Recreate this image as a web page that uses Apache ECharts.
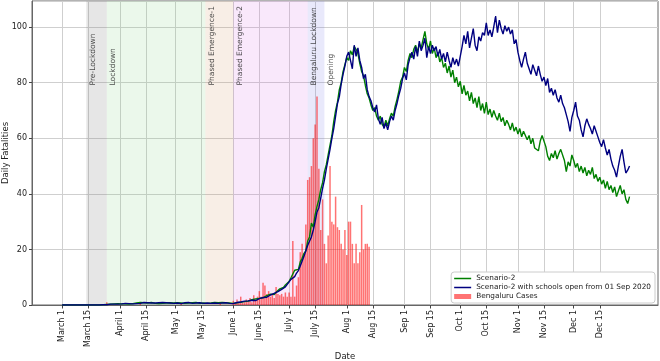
<!DOCTYPE html>
<html>
<head>
<meta charset="utf-8">
<script src="https://cdn.jsdelivr.net/npm/echarts@6/dist/echarts.min.js"></script>
<style>
  html, body { margin: 0; padding: 0; background: #fff; }
  #chart { width: 660px; height: 361px; }
</style>
</head>
<body>
<div id="chart"></div>
<script>
// x positions are days counted from 1 March 2020
const START = Date.UTC(2020, 2, 1);
const dayOf = (s) => Math.round((Date.parse(s + "T00:00:00Z") - START) / 86400000);

const tickDates = [
  "2020-03-01", "2020-03-15", "2020-04-01", "2020-04-15", "2020-05-01",
  "2020-05-15", "2020-06-01", "2020-06-15", "2020-07-01", "2020-07-15",
  "2020-08-01", "2020-08-15", "2020-09-01", "2020-09-15", "2020-10-01",
  "2020-10-15", "2020-11-01", "2020-11-15", "2020-12-01", "2020-12-15",
];
const tickLabels = [
  "March 1", "March 15", "April 1", "April 15", "May 1",
  "May 15", "June 1", "June 15", "July 1", "July 15",
  "Aug 1", "Aug 15", "Sep 1", "Sep 15", "Oct 1",
  "Oct 15", "Nov 1", "Nov 15", "Dec 1", "Dec 15",
];

// phases of the lockdown
const phaseNames = ["Pre-Lockdown", "Lockdown", "Phased Emergence-1", "Phased Emergence-2", "Bengaluru Lockdown", "Opening"];
const phaseStart = ["2020-03-14", "2020-03-25", "2020-05-17", "2020-06-01", "2020-07-11", "2020-07-20"];
const phaseEnd   = ["2020-03-25", "2020-05-17", "2020-06-01", "2020-07-11", "2020-07-20", null];
const phaseColors = [
  "rgba(128,128,128,0.2)", "rgba(120,210,120,0.15)", "rgba(210,140,90,0.15)",
  "rgba(220,110,230,0.16)", "rgba(110,110,230,0.15)", null,
];

// daily fatalities, one value per day from 1 March to 31 Dec 2020
const scenario2 = [
  0, 0, 0, 0, 0, 0, 0, 0, 0, 0,
  0, 0, 0, 0, 0, 0, 0, 0, 0, 0,
  0, 0, 0.1, 0.1, 0.2, 0.1, 0.3, 0.2, 0.4, 0.3,
  0.5, 0.3, 0.4, 0.6, 0.4, 0.5, 0.3, 0.6, 0.5, 0.4,
  0.7, 0.5, 0.9, 0.6, 0.8, 0.5, 0.7, 0.6, 0.9, 0.7,
  0.6, 0.8, 0.5, 0.7, 0.6, 0.9, 0.7, 0.6, 0.8, 0.5,
  0.7, 1.0, 0.8, 0.6, 0.7, 0.9, 0.6, 0.8, 0.7, 0.5,
  0.8, 0.6, 0.9, 0.7, 0.6, 0.8, 0.7, 0.9, 0.6, 0.8,
  0.7, 1.2, 0.9, 0.7, 0.8, 0.6, 0.9, 0.7, 0.8, 0.6,
  0.7, 0.8, 0.6, 0.9, 0.8, 1.1, 1.0, 1.3, 1.2, 1.6,
  1.4, 1.5, 1.9, 1.7, 2.2, 2.0, 2.4, 2.9, 2.6, 3.1,
  3.4, 3.2, 3.9, 4.1, 3.8, 4.6, 5.0, 5.8, 5.4, 6.3,
  7.2, 6.8, 8.5, 9.8, 9.2, 12.5, 13.2, 12.8, 15.5, 16.8,
  18.6, 19.5, 23, 24.5, 29.5, 28, 32.5, 35.5, 38, 41.5,
  44, 48, 50.5, 54, 57.5, 61, 66, 70, 73, 77.5,
  80, 84, 86.5, 89, 88, 91.5, 90, 93, 92, 90.5,
  87, 84, 82.5, 79, 76, 74.5, 72, 70, 71, 68,
  66.5, 68, 65, 64, 66.5, 64.5, 67, 69, 68, 71.5,
  74, 77, 80.5, 82, 85.5, 84, 88, 90.5, 89, 92,
  93.5, 91, 94, 92.5, 95.5, 98.5, 94, 92, 95, 90.5,
  92.5, 89, 91, 87.5, 89, 85.5, 87, 83.5, 86, 82,
  84.5, 80, 82, 78.5, 80.5, 76, 79, 75.5, 77, 73.5,
  76.5, 72.5, 74.5, 71, 75, 70, 72.5, 69, 73, 68.5,
  70.5, 67.5, 70, 68, 66.5, 69, 66, 67.5, 64.5, 66.5,
  65, 63, 65.5, 62.5, 64, 61.5, 63.5, 60.5, 62.5, 63,
  59.5, 61, 58, 60, 56.5, 57, 55.5, 59, 61, 60.5,
  57, 53.5, 52, 54.5, 53, 55.5, 52.5, 54.5, 56, 55.5,
  52, 48, 51.5, 50, 54, 52, 49.5, 51, 48, 50,
  47.5, 49.5, 46.5, 48.5, 47, 49.5, 45.5, 47, 44.5, 46,
  43.5, 45, 42, 44.5, 41.5, 43, 40.5, 42.5, 39, 41,
  43, 40, 41.5, 38, 36.5, 39,
];

const schoolsOpen = [
  0, 0, 0, 0, 0, 0, 0, 0, 0, 0,
  0, 0, 0, 0, 0, 0, 0, 0, 0, 0,
  0, 0.1, 0.1, 0.2, 0.1, 0.2, 0.3, 0.2, 0.3, 0.4,
  0.3, 0.5, 0.4, 0.3, 0.6, 0.4, 0.5, 0.7, 0.4, 0.6,
  0.5, 0.8, 0.6, 0.7, 0.9, 0.6, 0.8, 0.5, 0.7, 0.8,
  0.7, 0.6, 0.8, 0.5, 0.9, 0.7, 0.8, 0.6, 0.7, 0.9,
  0.6, 0.8, 0.7, 0.9, 0.5, 0.7, 0.8, 0.6, 0.9, 0.7,
  0.6, 0.8, 0.7, 0.5, 0.8, 0.7, 0.6, 0.8, 0.7, 0.9,
  0.6, 0.8, 0.7, 0.9, 0.6, 0.8, 0.7, 0.6, 0.8, 0.7,
  0.6, 0.7, 0.5, 0.7, 0.9, 0.8, 1.1, 1.0, 1.4, 1.3,
  1.5, 1.3, 1.7, 1.8, 1.6, 2.1, 2.3, 2.2, 2.7, 3.0,
  2.8, 3.4, 3.6, 3.5, 4.2, 4.3, 4.8, 5.2, 5.6, 5.9,
  6.5, 7.4, 7.8, 9.2, 8.6, 10.2, 11.5, 12.4, 14, 14.6,
  17.5, 18.2, 21.5, 22, 24.5, 27, 30, 33.5, 35, 38.5,
  42, 45, 49, 52.5, 56, 60, 63.5, 68, 72.5, 75,
  79.5, 83, 86, 89.5, 91, 88, 85, 93.5, 89.5, 92.5,
  88, 85.5, 81.5, 83, 77.5, 75, 73.5, 71, 69.5, 72,
  67, 65, 67.5, 63.5, 65.5, 63, 66, 68, 66.5, 70,
  72.5, 75.5, 78, 81.5, 83.5, 81, 86.5, 89, 91, 88.5,
  93, 89.5, 95, 91.5, 93.5, 96, 89, 93, 90.5, 93.5,
  91.5, 93, 89.5, 92, 88.5, 90.5, 87.5, 91, 88, 85.5,
  89, 86.5, 88.5, 86, 89.5, 93, 97, 94, 98.5, 92.5,
  96, 99.5, 93.5, 91.5, 96.5, 95, 98, 97, 101.5, 97,
  99, 96.5, 100, 104, 98, 102.5, 99.5, 97.5, 100.5, 98.5,
  100, 97.5, 99, 94, 95.5, 91, 88, 85.5, 88.5, 91,
  87, 85, 83, 86.5, 84.5, 82.5, 86, 83, 80.5, 82,
  79, 81.5, 76.5, 78, 75.5, 77.5, 74.5, 73, 75.5, 72.5,
  71, 68.5, 66, 62.5, 67.5, 70, 73, 68, 66.5, 63,
  60.5, 64.5, 67, 65, 63.5, 61.5, 64.5, 64, 60.5, 58.5,
  57, 59.5, 56.5, 54, 56, 52.5, 50, 48.5, 46, 50,
  53.5, 56, 51.5, 47.5, 48.5, 50,
];

// reported Bengaluru cases (same scale), one value per day from 1 March
const blrCases = [
  0, 0, 0, 0, 0, 0, 0, 0, 0, 0,
  0, 0, 0, 0, 0, 0, 0, 0, 0, 0,
  0, 0, 0, 0, 1, 0, 0, 0, 0, 0,
  0, 0, 0, 0, 0, 0, 0, 0, 0, 0,
  0, 0, 0.5, 0, 0, 0, 0, 0, 0, 0,
  0, 0, 0, 0, 0, 0, 0, 0, 0, 0,
  0, 0, 0, 0, 0.4, 0, 0, 0, 0, 0,
  0, 0, 0, 0, 0, 0, 0, 0, 0, 0,
  0, 0, 0, 0, 0, 0.5, 0, 0, 0, 0,
  0, 0, 1.5, 0.5, 2, 1, 3, 0.8, 1, 2,
  1.5, 2.5, 1, 3.5, 2, 3, 5, 3, 8, 7,
  4, 5, 3, 4, 2.5, 6.5, 4, 3.5, 4, 3,
  4.5, 3, 4.5, 3, 23, 3, 7, 10, 19, 22,
  18, 29, 45, 46, 50, 60, 65, 75, 49, 27,
  38, 22, 15, 25, 50, 30, 29, 39, 28, 27,
  22, 20, 27, 18, 30, 30, 22, 15, 22, 15,
  19, 36, 20, 22, 22, 21,
];

const tickDays = tickDates.map(dayOf);
const byDay = (arr) => arr.map((v, i) => [i, v]);

const chart = echarts.init(document.getElementById("chart"));

const areas = [];
phaseNames.forEach((name, i) => {
  if (!phaseColors[i]) return;
  areas.push([
    { xAxis: dayOf(phaseStart[i]), itemStyle: { color: phaseColors[i] } },
    { xAxis: dayOf(phaseEnd[i]) },
  ]);
});

// thin line icon for the legend (tiny slivers keep the box 17x5)
const lineIcon = "path://M0,0H17V0.01H0Z M0,1.8H17V3.2H0Z M0,4.99H17V5H0Z";

const axisText = { color: "#222", fontFamily: "DejaVu Sans", fontSize: 8 };

const option = {
  animation: false,
  backgroundColor: "#fff",
  grid: {
    left: 32,
    right: 2,
    top: 1,
    bottom: 56,
    show: true,
    borderColor: "#666",
    borderWidth: 1,
    outerBoundsMode: "none",
  },
  legend: {
    data: [
      { name: "Scenario-2", icon: lineIcon },
      { name: "Scenario-2 with schools open from 01 Sep 2020", icon: lineIcon },
      { name: "Bengaluru Cases", icon: "rect" },
    ],
    orient: "vertical",
    right: 5,
    bottom: 58,
    backgroundColor: "#fff",
    borderColor: "#ccc",
    borderWidth: 1,
    borderRadius: 3,
    padding: [3, 4, 3, 3],
    itemWidth: 17,
    itemHeight: 5,
    itemGap: 2,
    textStyle: { color: "#222", fontFamily: "DejaVu Sans", fontSize: 7.3 },
  },
  xAxis: {
    type: "value",
    min: -16.2,
    max: 320.3,
    name: "Date",
    nameLocation: "middle",
    nameGap: 47,
    nameMoveOverlap: false,
    nameTextStyle: { color: "#222", fontFamily: "DejaVu Sans", fontSize: 8.5 },
    axisLine: { show: true, onZero: false, lineStyle: { color: "#666" } },
    axisTick: { show: true, length: 3.5, customValues: tickDays, lineStyle: { color: "#444" } },
    axisLabel: {
      ...axisText,
      customValues: tickDays,
      rotate: 90,
      margin: 5,
      formatter: (v) => tickLabels[tickDays.indexOf(v)],
    },
    splitLine: { show: true, lineStyle: { color: "#cfcfcf", width: 1 } },
  },
  yAxis: {
    type: "value",
    min: 0,
    max: 109.4,
    interval: 20,
    name: "Daily Fatalities",
    nameLocation: "middle",
    nameGap: 22,
    nameMoveOverlap: false,
    nameTextStyle: { color: "#222", fontFamily: "DejaVu Sans", fontSize: 8.5 },
    axisLine: { show: true, onZero: false, lineStyle: { color: "#666" } },
    axisTick: { show: true, length: 3, lineStyle: { color: "#444" } },
    axisLabel: { ...axisText, margin: 5, showMaxLabel: false },
    splitLine: { show: true, lineStyle: { color: "#cfcfcf", width: 1 } },
  },
  series: [
    {
      name: "Bengaluru Cases",
      type: "bar",
      barWidth: 1.5,
      data: byDay(blrCases),
      itemStyle: { color: "rgba(255,0,0,0.55)" },
      markArea: { silent: true, data: areas },
    },
    {
      name: "phase labels",
      type: "scatter",
      silent: true,
      symbolSize: 0,
      data: phaseNames.map((n, i) => [dayOf(phaseStart[i]) + 3.5, 79, n]),
      label: {
        show: true,
        position: "inside",
        formatter: (p) => p.data[2],
        rotate: 90,
        align: "left",
        verticalAlign: "middle",
        color: "#222",
        fontFamily: "DejaVu Sans",
        fontSize: 7.5,
      },
    },
    {
      name: "Scenario-2",
      type: "line",
      data: byDay(scenario2),
      symbol: "none",
      lineStyle: { color: "green", width: 1.4 },
      itemStyle: { color: "green" },
    },
    {
      name: "Scenario-2 with schools open from 01 Sep 2020",
      type: "line",
      data: byDay(schoolsOpen),
      symbol: "none",
      lineStyle: { color: "navy", width: 1.4 },
      itemStyle: { color: "navy" },
    },
  ],
};

chart.setOption(option);
</script>
</body>
</html>
